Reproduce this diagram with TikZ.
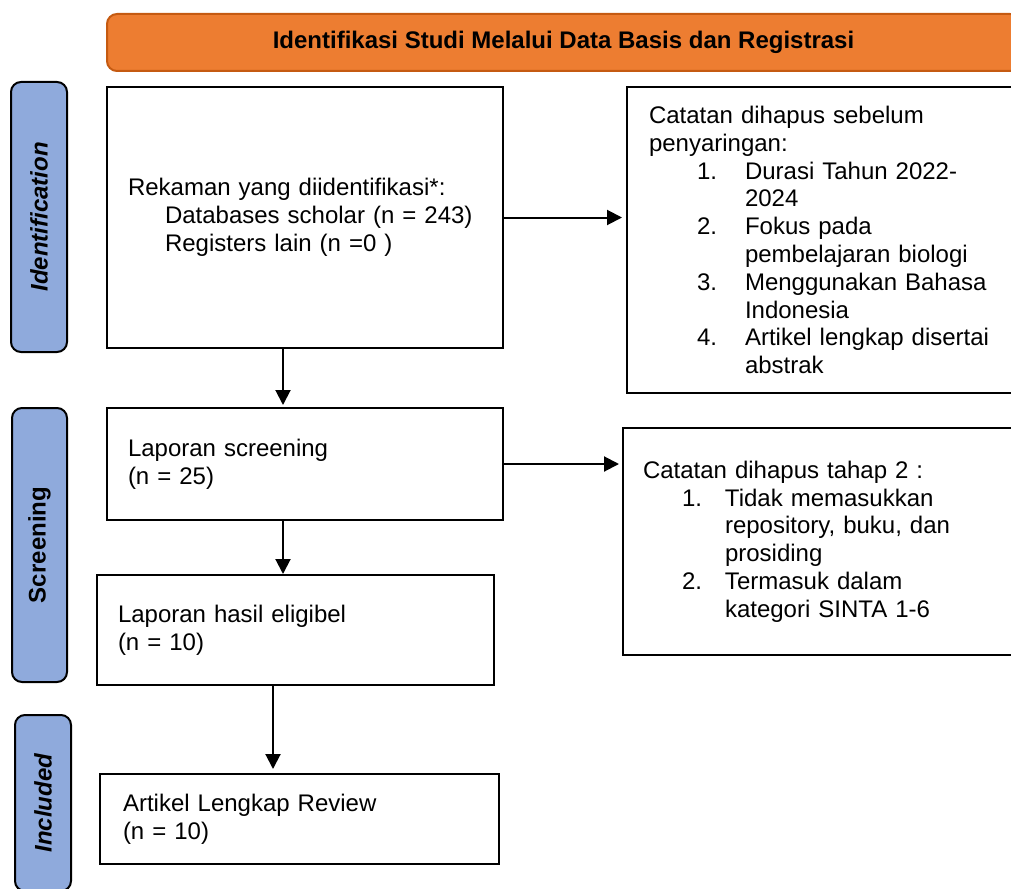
\documentclass[tikz,border=0pt]{standalone}
\usepackage{fontspec}
\setmainfont{Liberation Sans}
\usepackage{tikz}
\usetikzlibrary{arrows.meta}

\definecolor{barorange}{RGB}{237,125,49}
\definecolor{barline}{RGB}{197,90,17}
\definecolor{phaseblue}{RGB}{143,170,220}

% numbered line inside a box: indent, width of number, number
\newcommand{\numline}[3]{\hspace*{#1}\makebox[#2][l]{#3}}

\tikzset{
  header/.style={draw=barline, fill=barorange, line width=1pt, rounded corners=5pt,
    minimum width=456.5pt, minimum height=28.5pt, font=\fontsize{12}{13.9}\selectfont\bfseries},
  phase/.style={draw, line width=1pt, fill=phaseblue, rounded corners=5pt, rotate=90,
    font=\fontsize{12}{13.9}\selectfont\bfseries},
  stagebox/.style={draw, line width=1pt, rectangle, align=left, inner ysep=0pt},
  arr/.style={line width=1pt, -{Triangle[length=7.5pt,width=7.5pt]}}
}

\begin{document}
\begin{tikzpicture}[x=0.5pt, y=-0.5pt, font=\fontsize{12}{13.9}\selectfont]
    \useasboundingbox (0,0) rectangle (1011,888);
    \clip (0,0) rectangle (1011,888);

    % header
    \node[header] (title) at (563.5,42.5) {Identifikasi Studi Melalui Data Basis dan Registrasi};

    % phases
    \node[phase, minimum width=135pt, minimum height=28pt] (idf) at (39,217) {\textit{Identification}};
    \node[phase, minimum width=137pt, minimum height=27.5pt] (scr) at (39.5,545) {Screening};
    \node[phase, minimum width=88pt, minimum height=28pt] (inc) at (43,803) {\textit{Included}};

    % identification
    \node[stagebox, text width=177pt, minimum height=130.5pt, inner xsep=10.5pt] (rec) at (305,217.5)
        {Rekaman yang diidentifikasi*:\\
         \hspace*{18.5pt}Databases scholar (n = 243)\\
         \hspace*{18.5pt}Registers lain (n =0 )};
    \node[stagebox, text width=184.5pt, minimum height=153pt, inner xsep=11pt] (del1) at (833.5,240)
        {Catatan dihapus sebelum\\
         penyaringan:\\
         \numline{24pt}{24pt}{1.}Durasi Tahun 2022-\\
         \hspace*{48pt}2024\\
         \numline{24pt}{24pt}{2.}Fokus pada\\
         \hspace*{48pt}pembelajaran biologi\\
         \numline{24pt}{24pt}{3.}Menggunakan Bahasa\\
         \hspace*{48pt}Indonesia\\
         \numline{24pt}{24pt}{4.}Artikel lengkap disertai\\
         \hspace*{48pt}abstrak};

    % screening
    \node[stagebox, text width=177pt, minimum height=56pt, inner xsep=10.5pt] (scrn) at (305,464)
        {Laporan screening\\(n = 25)};
    \node[stagebox, text width=188.5pt, minimum height=113.5pt, inner xsep=10pt] (del2) at (831.5,541.5)
        {Catatan dihapus tahap 2 :\\
         \numline{19.5pt}{21.5pt}{1.}Tidak memasukkan\\
         \hspace*{41pt}repository, buku, dan\\
         \hspace*{41pt}prosiding\\
         \numline{19.5pt}{21.5pt}{2.}Termasuk dalam\\
         \hspace*{41pt}kategori SINTA 1-6};
    \node[stagebox, text width=177.5pt, minimum height=55pt, inner xsep=10.5pt] (elig) at (295.5,630)
        {Laporan hasil eligibel\\(n = 10)};

    % included
    \node[stagebox, text width=176.5pt, minimum height=45pt, inner xsep=11.5pt] (full) at (299.5,819)
        {Artikel Lengkap Review\\(n = 10)};

    % connectors
    \coordinate (colA) at (283,0);
    \coordinate (colB) at (273,0);
    \draw[arr, shorten >=2pt] (rec.east) -- (rec.east -| del1.west);
    \draw[arr, shorten >=1pt] (rec.south -| colA) -- (scrn.north -| colA);
    \draw[arr, shorten >=1.5pt] (scrn.east) -- (scrn.east -| del2.west);
    \draw[arr] (scrn.south -| colA) -- (elig.north -| colA);
    \draw[arr, shorten >=2pt] (elig.south -| colB) -- (full.north -| colB);

\end{tikzpicture}
\end{document}
